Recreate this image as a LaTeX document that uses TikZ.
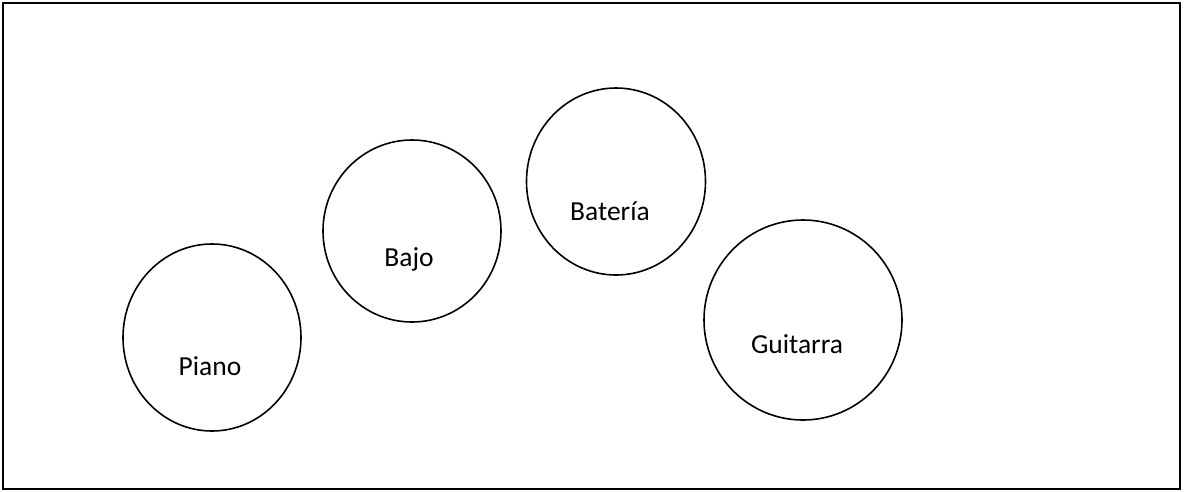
\documentclass[tikz,border=0pt]{standalone}
\usepackage{fontspec}
\setmainfont{Carlito}
\usetikzlibrary{shapes.geometric}

\tikzset{
	drum/.style={draw,ellipse,inner sep=0pt,line width=1.6pt},
	word/.style={anchor=base,inner sep=0pt,font=\fontsize{27.5}{33}\selectfont}
}

\begin{document}
\begin{tikzpicture}[x=1pt,y=-1pt]
	\path[use as bounding box] (0,0) rectangle (1184,491);
	\draw[line width=2pt] (3,3) rectangle (1180,489);
	\node[drum,minimum width=178pt,minimum height=187pt] (pianoc) at (212,337.5) {};
	\node[drum,minimum width=178pt,minimum height=182pt] (bajoc) at (412,231) {};
	\node[drum,minimum width=179pt,minimum height=187pt] (bateriac) at (616,181.5) {};
	\node[drum,minimum width=198pt,minimum height=200pt] (guitarrac) at (803,320) {};
	\node[word] (piano) at (210,375) {Piano};
	\node[word] (bajo) at (409,266.5) {Bajo};
	\node[word] (bateria) at (610,220) {Batería};
	\node[word] (guitarra) at (797,353) {Guitarra};
\end{tikzpicture}
\end{document}
